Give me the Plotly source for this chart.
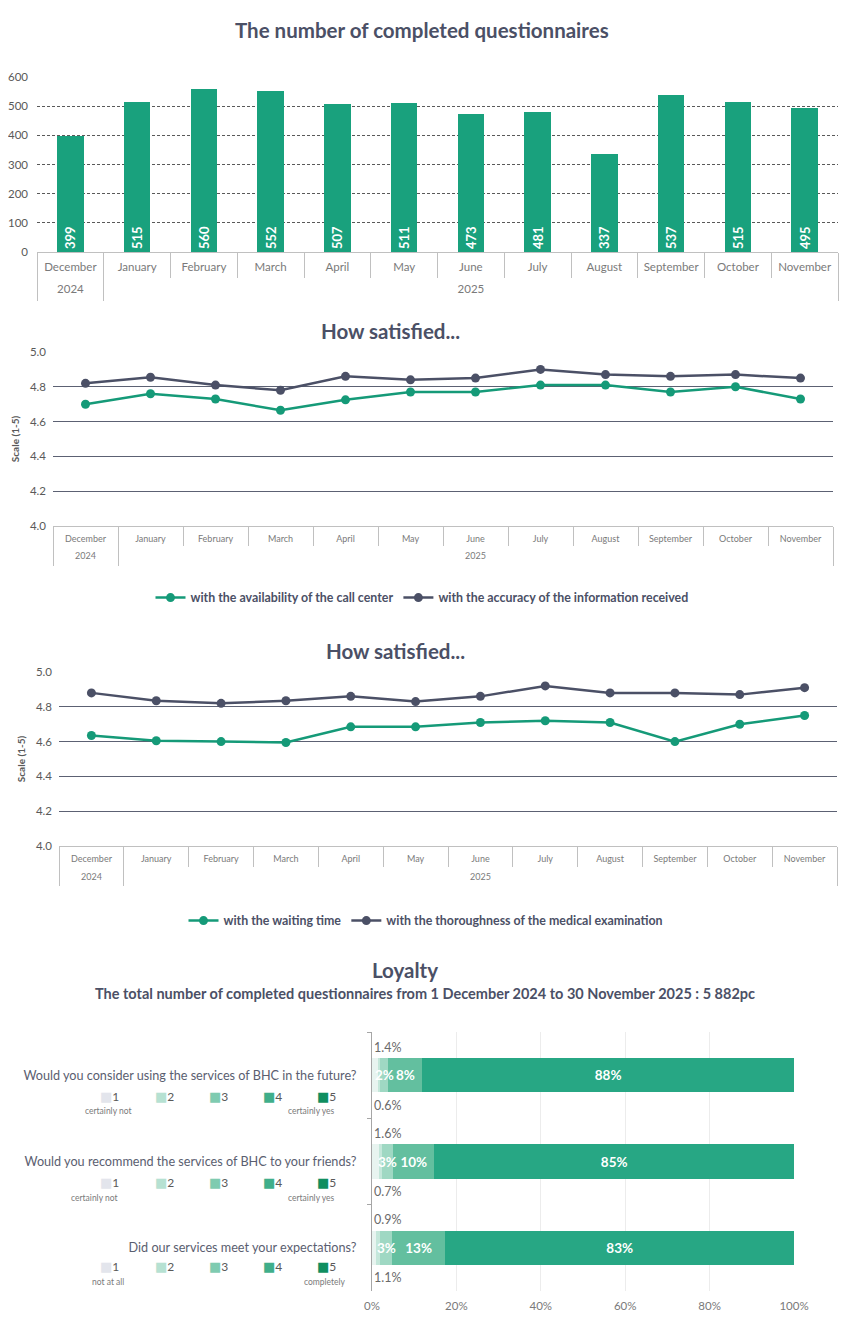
import plotly.graph_objects as go

# ---------------- data ----------------
months = ["December", "January", "February", "March", "April", "May",
          "June", "July", "August", "September", "October", "November"]
years = ["2024"] + ["2025"] * 11

questionnaires = [399, 515, 560, 552, 507, 511, 473, 481, 337, 537, 515, 495]

call_center = [4.70, 4.76, 4.73, 4.665, 4.725, 4.77, 4.77, 4.81, 4.81, 4.77, 4.80, 4.73]
accuracy = [4.82, 4.855, 4.81, 4.78, 4.86, 4.84, 4.85, 4.90, 4.87, 4.86, 4.87, 4.85]

waiting_time = [4.635, 4.605, 4.60, 4.595, 4.685, 4.685, 4.71, 4.72, 4.71, 4.60, 4.70, 4.75]
thoroughness = [4.88, 4.835, 4.82, 4.835, 4.86, 4.83, 4.86, 4.92, 4.88, 4.88, 4.87, 4.91]

questions = ["Would you consider using the services of BHC in the future?",
             "Would you recommend the services of BHC to your friends?",
             "Did our services meet your expectations?"]
score_names = ["1", "2", "3", "4", "5"]
score_1 = [1.4, 1.6, 0.9]
score_2 = [0.6, 0.7, 1.1]
score_3 = [1.9, 2.7, 2.7]
score_4 = [8.0, 9.8, 12.7]
score_5 = [88.1, 85.2, 82.6]
low_captions = ["certainly not", "certainly not", "not at all"]
high_captions = ["certainly yes", "certainly yes", "completely"]

# ---------------- styles ----------------
W, H = 834, 1304          # page body keeps its default 8px margin -> 850 x 1320 page
OFF = 8
FONT = "Lato"
TITLE_C = "#4b5066"
GREEN = "#19a17d"
LINE_GREEN = "#159a78"
DARK = "#4b5066"
GREY_TXT = "#7a7a7a"
TICK_C = "#595959"
SEP_C = "#c0c0c0"
seg_colors = ["#e8f4f0", "#c4e7da", "#9fd8c3", "#63bf9f", "#27a784"]
legend_sq = ["#e3e5ec", "#b6e1d2", "#7fcbb0", "#40ae8a", "#0f8e60"]


def px(x):
    return (x - OFF) / W


def py(y):
    return 1 - (y - OFF) / H


CAT_RANGE = [-0.5, len(months) - 0.5]

# year groups derived from the data
year_names, year_centers, year_bounds = [], [], [-0.5]
for i, yv in enumerate(years):
    if not year_names or year_names[-1] != yv:
        if year_names:
            year_bounds.append(i - 0.5)
        year_names.append(yv)
for yn in year_names:
    idx = [i for i, yv in enumerate(years) if yv == yn]
    year_centers.append(sum(idx) / len(idx))
year_bounds.append(len(years) - 0.5)

fig = go.Figure()

# chart 1 : bars
fig.add_trace(go.Bar(
    x=months, y=questionnaires, xaxis="x", yaxis="y",
    marker=dict(color=GREEN, line=dict(width=0)),
    texttemplate="<b>%{y}</b>", textposition="inside", insidetextanchor="start",
    textangle=-90, textfont=dict(family=FONT, size=13, color="white"),
    showlegend=False, hoverinfo="skip"))

# chart 2 : lines
fig.add_trace(go.Scatter(
    x=months, y=call_center, xaxis="x2", yaxis="y2",
    mode="lines+markers", name="with the availability of the call center",
    line=dict(color=LINE_GREEN, width=2.5), marker=dict(size=9, color=LINE_GREEN),
    legend="legend"))
fig.add_trace(go.Scatter(
    x=months, y=accuracy, xaxis="x2", yaxis="y2",
    mode="lines+markers", name="with the accuracy of the information received",
    line=dict(color=DARK, width=2.5), marker=dict(size=9, color=DARK),
    legend="legend"))

# chart 3 : lines
fig.add_trace(go.Scatter(
    x=months, y=waiting_time, xaxis="x3", yaxis="y3",
    mode="lines+markers", name="with the waiting time",
    line=dict(color=LINE_GREEN, width=2.5), marker=dict(size=9, color=LINE_GREEN),
    legend="legend2"))
fig.add_trace(go.Scatter(
    x=months, y=thoroughness, xaxis="x3", yaxis="y3",
    mode="lines+markers", name="with the thoroughness of the medical examination",
    line=dict(color=DARK, width=2.5), marker=dict(size=9, color=DARK),
    legend="legend2"))

# carrier traces (draw nothing) so the year-level overlay axes are rendered
for xa, ya, yv in [("x5", "y", 0), ("x6", "y", 0), ("x7", "y2", 4.5), ("x8", "y2", 4.5),
                   ("x9", "y3", 4.5), ("x10", "y3", 4.5)]:
    fig.add_trace(go.Scatter(x=year_centers, y=[yv] * len(year_centers), xaxis=xa, yaxis=ya,
                             mode="none", showlegend=False, hoverinfo="skip"))

# chart 4 : stacked horizontal bars
all_scores = [score_1, score_2, score_3, score_4, score_5]
for i, vals in enumerate(all_scores):
    inside = i >= 3
    fig.add_trace(go.Bar(
        x=vals, y=questions, orientation="h", xaxis="x4", yaxis="y4",
        name=score_names[i], marker=dict(color=seg_colors[i], line=dict(width=0)),
        texttemplate="<b>%{x:.0f}%</b>" if inside else None,
        textposition="inside" if inside else "none",
        insidetextanchor="middle", textangle=0,
        textfont=dict(family=FONT, size=13.5, color="white"),
        showlegend=False, hoverinfo="skip"))

annotations = []


def title(text, x, y, size=20.5):
    annotations.append(dict(text="<b>%s</b>" % text, x=px(x), y=py(y), xref="paper", yref="paper",
                            showarrow=False, xanchor="center", yanchor="middle",
                            font=dict(family=FONT, size=size, color=TITLE_C)))


title("The number of completed questionnaires", 422, 30)
title("How satisfied...", 390, 331)
title("How satisfied...", 395, 651)
title("Loyalty", 405, 970)
title("The total number of completed questionnaires from 1 December 2024 to 30 November 2025 : 5 882pc",
      425, 993, size=14.5)

# labels of the narrow score-3 segment (overflowing, drawn on top)
for q, a, b, c in zip(questions, score_1, score_2, score_3):
    annotations.append(dict(text="<b>%.0f%%</b>" % c, x=a + b + c / 2, y=q, xref="x4", yref="y4",
                            showarrow=False, xanchor="center", yanchor="middle",
                            font=dict(family=FONT, size=13.5, color="white")))

# small outside value labels for scores 1 and 2
for q, a, b in zip(questions, score_1, score_2):
    annotations.append(dict(text="%.1f%%" % a, x=0, y=q, xref="x4", yref="y4", showarrow=False,
                            xanchor="left", yanchor="middle", yshift=28,
                            font=dict(family=FONT, size=12.5, color="#6a6a6a")))
    annotations.append(dict(text="%.1f%%" % b, x=0, y=q, xref="x4", yref="y4", showarrow=False,
                            xanchor="left", yanchor="middle", yshift=-30,
                            font=dict(family=FONT, size=12.5, color="#6a6a6a")))

# mini legends below each question
leg_x = [109, 164, 218, 272, 326]
for qi, q in enumerate(questions):
    row_shift = -21 if qi < 2 else -19
    cap_shift = -36 if qi < 2 else -34
    for k in range(5):
        annotations.append(dict(
            text="<span style='color:%s;font-family:DejaVu Sans;font-size:13px'>■</span>%s"
                 % (legend_sq[k], score_names[k]),
            x=px(leg_x[k]), y=q, xref="paper", yref="y4", showarrow=False,
            xanchor="center", yanchor="middle", yshift=row_shift,
            font=dict(family=FONT, size=12, color="#595959")))
    annotations.append(dict(text=low_captions[qi], x=px(108 if qi != 1 else 94), y=q, xref="paper",
                            yref="y4", showarrow=False, xanchor="center", yanchor="middle",
                            yshift=cap_shift, font=dict(family=FONT, size=8.5, color="#7a7a7a")))
    annotations.append(dict(text=high_captions[qi], x=px(311 if qi != 2 else 325), y=q, xref="paper",
                            yref="y4", showarrow=False, xanchor="center", yanchor="middle",
                            yshift=cap_shift, font=dict(family=FONT, size=8.5, color="#7a7a7a")))


def month_axis(domain, anchor, ticklen, size, standoff):
    return dict(domain=domain, anchor=anchor, type="category", categoryorder="array",
                categoryarray=months, range=CAT_RANGE, tickson="boundaries", ticks="outside",
                ticklen=ticklen, tickcolor=SEP_C, showline=True, linecolor=SEP_C, linewidth=1,
                showgrid=False, zeroline=False, ticklabelstandoff=standoff, automargin=False,
                tickfont=dict(family=FONT, size=size, color=GREY_TXT), fixedrange=True)


def sep_axis(over, anchor, ticklen):
    return dict(overlaying=over, anchor=anchor, side="bottom", type="linear", range=CAT_RANGE,
                tickmode="array", tickvals=year_bounds, ticks="outside", ticklen=ticklen,
                tickcolor=SEP_C, showticklabels=False, showgrid=False, zeroline=False,
                showline=False, automargin=False, fixedrange=True)


def year_axis(over, anchor, size, standoff):
    return dict(overlaying=over, anchor=anchor, side="bottom", type="linear", range=CAT_RANGE,
                tickmode="array", tickvals=year_centers, ticktext=year_names, ticks="",
                ticklabelstandoff=standoff, tickfont=dict(family=FONT, size=size, color=GREY_TXT),
                showgrid=False, zeroline=False, showline=False, automargin=False, fixedrange=True)


def scale_axis(domain, anchor):
    return dict(domain=domain, anchor=anchor, range=[4, 5], dtick=0.2, tickformat=".1f",
                showgrid=True, gridcolor="#5c6173", gridwidth=1.3, zeroline=False, showline=False,
                ticks="", ticklabelstandoff=6, tickfont=dict(family=FONT, size=11.5, color=TICK_C),
                title=dict(text="<b>Scale (1-5)</b>", font=dict(family=FONT, size=10, color=TICK_C),
                           standoff=8), automargin=False, fixedrange=True)


fig.update_layout(
    width=W, height=H, margin=dict(l=0, r=0, t=0, b=0, autoexpand=False),
    paper_bgcolor="white", plot_bgcolor="white",
    font=dict(family=FONT, color=TICK_C),
    barmode="stack", bargap=0.6,
    uniformtext=dict(mode="show", minsize=13),
    annotations=annotations,
    # chart 1
    xaxis=month_axis([px(37), px(838)], "y", 25, 11.5, 4),
    xaxis5=sep_axis("x", "y", 48),
    xaxis6=year_axis("x", "y", 11.5, 28),
    yaxis=dict(domain=[py(252), py(77)], anchor="x", range=[0, 600], dtick=100,
               showgrid=True, gridcolor="#595959", griddash="3px,2px", gridwidth=1,
               zeroline=False, showline=False, ticks="", ticklabelstandoff=8, automargin=False,
               tickfont=dict(family=FONT, size=11.5, color=TICK_C), fixedrange=True),
    # chart 2
    xaxis2=month_axis([px(53), px(833)], "y2", 19, 9, 4),
    xaxis7=sep_axis("x2", "y2", 39),
    xaxis8=year_axis("x2", "y2", 9, 23),
    yaxis2=scale_axis([py(526), py(352)], "x2"),
    # chart 3
    xaxis3=month_axis([px(59), px(837)], "y3", 20, 9, 4),
    xaxis9=sep_axis("x3", "y3", 39),
    xaxis10=year_axis("x3", "y3", 9, 24),
    yaxis3=scale_axis([py(846), py(672)], "x3"),
    # chart 4
    xaxis4=dict(domain=[px(372), px(794)], anchor="y4", range=[0, 100], dtick=20, ticksuffix="%",
                showgrid=True, gridcolor="#ececec", zeroline=False, showline=False,
                ticklabelstandoff=6, automargin=False,
                tickfont=dict(family=FONT, size=11.5, color=GREY_TXT), fixedrange=True),
    yaxis4=dict(domain=[py(1291), py(1032)], anchor="x4", type="category",
                categoryorder="array", categoryarray=questions, autorange="reversed",
                ticks="outside", tickson="boundaries", ticklen=4, tickcolor="#a6a6a6",
                showline=True, linecolor="#a6a6a6", showgrid=False, ticklabelstandoff=12,
                automargin=False,
                tickfont=dict(family=FONT, size=12.65, color="#5a5e70"), fixedrange=True),
    legend=dict(orientation="h", x=px(422), xanchor="center", y=py(598), yanchor="middle",
                traceorder="normal",
                font=dict(family=FONT, size=12.4, color=TITLE_C, weight="bold"),
                bgcolor="rgba(0,0,0,0)"),
    legend2=dict(orientation="h", x=px(426), xanchor="center", y=py(921), yanchor="middle",
                 traceorder="normal",
                 font=dict(family=FONT, size=12.4, color=TITLE_C, weight="bold"),
                 bgcolor="rgba(0,0,0,0)"),
)

fig.write_html("out.html", config={"displayModeBar": False})
